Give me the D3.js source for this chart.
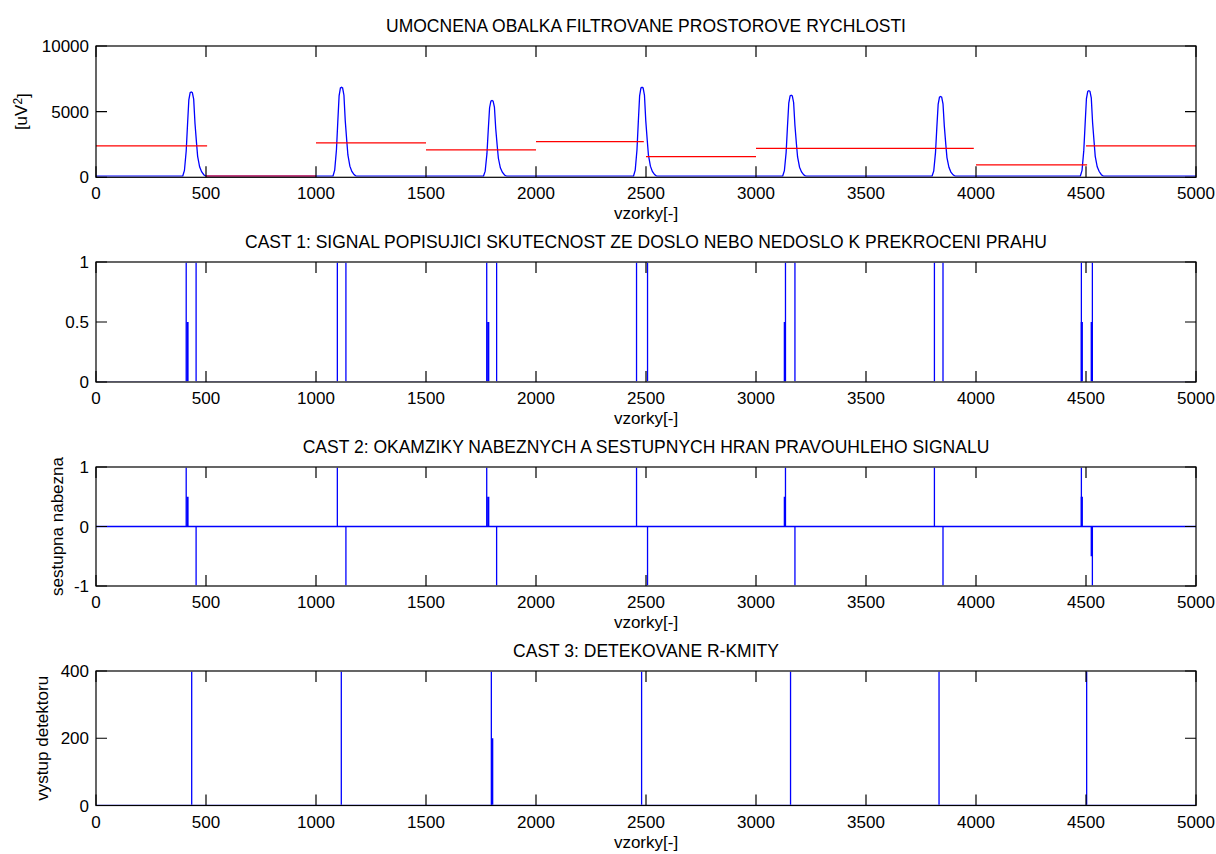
<!DOCTYPE html>
<html>
<head>
<meta charset="utf-8">
<script src="https://cdn.jsdelivr.net/npm/d3@7"></script>
<style>
body { margin: 0; background: #fff; }
text { font-family: "Liberation Sans", Arial, sans-serif; font-size: 17px; fill: #000; }
</style>
</head>
<body>
<div id="chart"></div>
<script>
// envelope of filtered spatial velocity, [sample, uV^2]
var envelope = [
  [0,80],
  [394,80],[402,520],[410,2000],[416,4000],[422,5900],[428,6450],[433,6500],[438,6450],[444,5950],[450,4100],[457,2600],[462,1600],[471,800],[480,430],[490,200],[500,80],
  [1077,80],[1085,550],[1093,2100],[1099,4200],[1105,6200],[1111,6800],[1116,6850],[1121,6800],[1127,6250],[1133,4300],[1140,2750],[1145,1700],[1154,850],[1163,450],[1173,210],[1183,80],
  [1761,80],[1769,470],[1777,1800],[1783,3600],[1789,5300],[1795,5800],[1800,5850],[1805,5800],[1811,5350],[1817,3700],[1824,2350],[1829,1450],[1838,720],[1847,390],[1857,180],[1867,80],
  [2443,80],[2451,550],[2459,2100],[2465,4200],[2471,6200],[2477,6800],[2482,6850],[2487,6800],[2493,6250],[2499,4300],[2506,2750],[2511,1700],[2520,850],[2529,450],[2539,210],[2549,80],
  [3121,80],[3129,500],[3137,1900],[3143,3850],[3149,5650],[3155,6200],[3160,6250],[3165,6200],[3171,5700],[3177,3950],[3184,2500],[3189,1550],[3198,770],[3207,410],[3217,190],[3227,80],
  [3800,80],[3808,490],[3816,1900],[3822,3800],[3828,5550],[3834,6100],[3839,6150],[3844,6100],[3850,5600],[3856,3900],[3863,2450],[3868,1500],[3877,760],[3886,400],[3896,190],[3906,80],
  [4474,80],[4482,530],[4490,2050],[4496,4050],[4502,6000],[4508,6550],[4513,6600],[4518,6550],[4524,6050],[4530,4150],[4537,2650],[4542,1600],[4551,800],[4560,440],[4570,200],[4580,80],
  [5000,80]
];

// threshold per window
var thrStart = [0, 500, 1000, 1500, 2000, 2500, 3000, 4000, 4500];
var thrEnd   = [505, 1000, 1500, 2000, 2490, 3000, 3990, 4505, 5000];
var thrLevel = [2400, 80, 2620, 2090, 2710, 1570, 2210, 950, 2400];

// rectangular signal edges (samples)
var pulseRise = [410, 1097, 1776, 2457, 3134, 3811, 4479];
var pulseFall = [455, 1136, 1821, 2507, 3177, 3850, 4529];
var halfRise = [416, 1783, 3131, 4481];
var halfFall = [4526];

// detected R peaks
var rPeaks = [435, 1115, 1797, 2480, 3157, 3832, 4503];
var rHalf = [1801];
var rHalfValue = [200];

var xTicks = [0, 500, 1000, 1500, 2000, 2500, 3000, 3500, 4000, 4500, 5000];
var titles = [
  "UMOCNENA OBALKA FILTROVANE PROSTOROVE RYCHLOSTI",
  "CAST 1: SIGNAL POPISUJICI SKUTECNOST ZE DOSLO NEBO NEDOSLO K PREKROCENI PRAHU",
  "CAST 2: OKAMZIKY NABEZNYCH A SESTUPNYCH HRAN PRAVOUHLEHO SIGNALU",
  "CAST 3: DETEKOVANE R-KMITY"
];
var yLabels = ["[uV", "", "sestupna nabezna", "vystup detektoru"];
var yDomains = [[0, 10000], [0, 1], [-1, 1], [0, 400]];
var yTicks = [[0, 5000, 10000], [0, 0.5, 1], [-1, 0, 1], [0, 200, 400]];
var xLabel = "vzorky[-]";

var W = 1216, H = 854;
var left = 96, right = 1196;
var panelTop = [46, 262, 467, 671];
var panelBottom = [177.3, 382, 586, 805.5];
var yLabelX = [21, 0, 57, 42];
var tickLen = 11;
var blue = "#0000ff", red = "#ff0000";

var svg = d3.select("#chart").append("svg")
  .attr("width", W).attr("height", H);
var defs = svg.append("defs");

var panels = [];
for (var i = 0; i < 4; i++)
{
  var x = d3.scaleLinear().domain([0, 5000]).range([left, right]);
  var y = d3.scaleLinear().domain(yDomains[i]).range([panelBottom[i], panelTop[i]]);
  // clip just inside the box so lines lying on the limits hide under the frame
  defs.append("clipPath").attr("id", "clip" + i)
    .append("rect")
      .attr("x", left).attr("y", panelTop[i] + 0.8)
      .attr("width", right - left).attr("height", panelBottom[i] - panelTop[i] - 1.6);
  var g = svg.append("g").attr("id", "panel" + i);
  panels.push({x: x, y: y, g: g,
    data: g.append("g").attr("clip-path", "url(#clip" + i + ")"),
    frame: g.append("g")});
}

var line = function(p) {
  return d3.line().x(function(d) { return p.x(d[0]); }).y(function(d) { return p.y(d[1]); });
};

// vertical spikes from 0 to value
function spikes(p, xs, vals, width)
{
  p.data.selectAll(null)
    .data(xs)
    .enter().append("path")
      .attr("d", function(d, k) { return line(p)([[d, 0], [d, vals[k]]]); })
      .attr("stroke", blue)
      .attr("stroke-width", width)
      .attr("fill", "none");
}

// panel 1: envelope + thresholds
var p0 = panels[0];
p0.data.append("path")
  .attr("d", line(p0)(envelope))
  .attr("stroke", blue).attr("stroke-width", 1.3).attr("fill", "none");
p0.data.selectAll(".thr")
  .data(thrLevel)
  .enter().append("path")
    .attr("class", "thr")
    .attr("d", function(d, k) { return line(p0)([[thrStart[k], d], [thrEnd[k], d]]); })
    .attr("stroke", red).attr("stroke-width", 1.3).attr("fill", "none");

// panel 2: rectangular signal
var p1 = panels[1];
var rect = [[0, 0]];
pulseRise.forEach(function(r, k) {
  rect.push([r, 0], [r, 1], [pulseFall[k], 1], [pulseFall[k], 0]);
});
rect.push([5000, 0]);
p1.data.append("path")
  .attr("d", line(p1)(rect))
  .attr("stroke", blue).attr("stroke-width", 1.3).attr("fill", "none");
spikes(p1, halfRise.concat(halfFall), halfRise.concat(halfFall).map(function() { return 0.5; }), 2.2);

// panel 3: edges
var p2 = panels[2];
p2.data.append("path")
  .attr("d", line(p2)([[0, 0], [5000, 0]]))
  .attr("stroke", blue).attr("stroke-width", 1.3).attr("fill", "none");
spikes(p2, pulseRise, pulseRise.map(function() { return 1; }), 1.3);
spikes(p2, pulseFall, pulseFall.map(function() { return -1; }), 1.3);
spikes(p2, halfRise, halfRise.map(function() { return 0.5; }), 2.2);
spikes(p2, halfFall, halfFall.map(function() { return -0.5; }), 2.2);

// panel 4: detector output
var p3 = panels[3];
p3.data.append("path")
  .attr("d", line(p3)([[0, 0], [5000, 0]]))
  .attr("stroke", blue).attr("stroke-width", 1.3).attr("fill", "none");
spikes(p3, rPeaks, rPeaks.map(function() { return 400; }), 1.3);
spikes(p3, rHalf, rHalfValue, 2.2);

// axes box, ticks and texts (drawn on top, like the original)
panels.forEach(function(p, i) {
  var f = p.frame;
  var t = panelTop[i], b = panelBottom[i];
  f.append("rect")
    .attr("x", left).attr("y", t)
    .attr("width", right - left).attr("height", b - t)
    .attr("fill", "none").attr("stroke", "#000").attr("stroke-width", 1.2);

  f.selectAll(".xt")
    .data(xTicks)
    .enter().append("path")
      .attr("d", function(d) {
        var xx = p.x(d);
        return "M" + xx + "," + b + "V" + (b - tickLen) + "M" + xx + "," + t + "V" + (t + tickLen);
      })
      .attr("stroke", "#000").attr("stroke-width", 1.2);
  f.selectAll(".yt")
    .data(yTicks[i])
    .enter().append("path")
      .attr("d", function(d) {
        var yy = p.y(d);
        return "M" + left + "," + yy + "H" + (left + tickLen) + "M" + right + "," + yy + "H" + (right - tickLen);
      })
      .attr("stroke", "#000").attr("stroke-width", 1.2);

  f.selectAll(".xl")
    .data(xTicks)
    .enter().append("text")
      .attr("x", function(d) { return p.x(d); })
      .attr("y", b + 22)
      .attr("text-anchor", "middle")
      .text(function(d) { return d; });
  f.selectAll(".yl")
    .data(yTicks[i])
    .enter().append("text")
      .attr("x", left - 7)
      .attr("y", function(d) { return p.y(d) + 6; })
      .attr("text-anchor", "end")
      .text(function(d) { return d; });

  f.append("text")
    .attr("x", (left + right) / 2).attr("y", t - 14)
    .attr("text-anchor", "middle")
    .style("font-size", "17.5px")
    .text(titles[i]);
  f.append("text")
    .attr("x", (left + right) / 2).attr("y", b + 42)
    .attr("text-anchor", "middle")
    .text(xLabel);

  if (yLabels[i])
  {
    var yl = f.append("text")
      .attr("transform", "translate(" + yLabelX[i] + "," + ((t + b) / 2) + ") rotate(-90)")
      .attr("dy", "0.35em")
      .attr("text-anchor", "middle")
      .text(yLabels[i]);
    if (i == 0)
    {
      yl.append("tspan").attr("dy", "-0.45em").style("font-size", "12px").text("2");
      yl.append("tspan").attr("dy", "0.45em").text("]");
    }
  }
});
</script>
</body>
</html>
